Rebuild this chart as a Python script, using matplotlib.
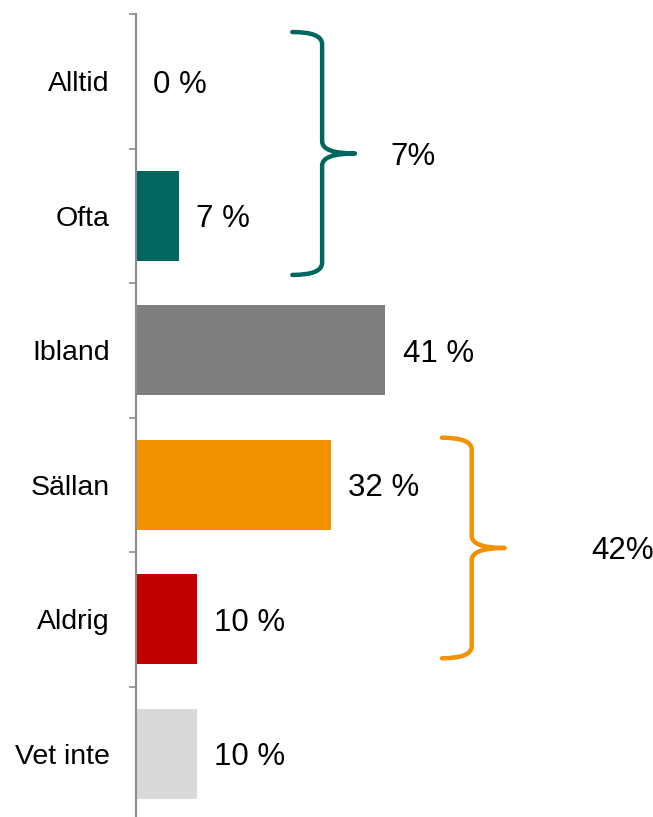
import matplotlib
matplotlib.use('Agg')
import matplotlib.pyplot as plt
from matplotlib.path import Path
from matplotlib.patches import PathPatch

categories = ['Alltid', 'Ofta', 'Ibland', 'Sällan', 'Aldrig', 'Vet inte']
values = [0, 7, 41, 32, 10, 10]
colors = ['#00665E', '#00665E', '#7F7F7F', '#F39200', '#C00000', '#D9D9D9']
group_labels = ['7%', '42%']

plt.rcParams['font.family'] = ['Liberation Sans', 'DejaVu Sans']

fig = plt.figure(figsize=(6.53, 8.17), dpi=100)
ax = fig.add_axes([136 / 653, -4 / 817, 517 / 653, 807 / 817])

y = list(range(len(categories)))
ax.barh(y, values, height=0.67, color=colors)
for yi, v in zip(y, values):
    ax.annotate(f'{v} %', (v, yi), xytext=(12.5, 0), textcoords='offset points',
                va='center_baseline', ha='left', fontsize=22.5)

ax.set_xlim(0, 85)
ax.set_ylim(5.5, -0.5)
ax.set_yticks(y)
ax.set_yticklabels(categories, fontsize=20.5)
ax.set_yticks([i - 0.5 for i in range(len(categories) + 1)], minor=True)
ax.tick_params(axis='y', which='major', length=0, pad=19)
ax.tick_params(axis='y', which='minor', length=5, width=1.2, color='#8C8C8C')
ax.set_xticks([])
for s in ['top', 'right', 'bottom']:
    ax.spines[s].set_visible(False)
ax.spines['left'].set_color('#8C8C8C')
ax.spines['left'].set_linewidth(1.5)


def brace(ax, x0, ytop, ybot, color, hook=4.9, tip=5.4, r=0.09):
    ymid = (ytop + ybot) / 2
    verts = [(x0 - hook, ytop), (x0, ytop), (x0, ytop + r),
             (x0, ymid - r), (x0, ymid), (x0 + tip, ymid),
             (x0, ymid), (x0, ymid + r),
             (x0, ybot - r), (x0, ybot), (x0 - hook, ybot)]
    codes = [Path.MOVETO, Path.CURVE3, Path.CURVE3,
             Path.LINETO, Path.CURVE3, Path.CURVE3,
             Path.CURVE3, Path.CURVE3,
             Path.LINETO, Path.CURVE3, Path.CURVE3]
    ax.add_patch(PathPatch(Path(verts, codes), fill=False, edgecolor=color,
                           lw=3.2, capstyle='round', joinstyle='round',
                           clip_on=False))
    return ymid


m1 = brace(ax, 30.6, -0.366, 1.44, '#00665E')
ax.text(41.8, m1, group_labels[0], va='center_baseline', ha='left', fontsize=22.5)
m2 = brace(ax, 55.2, 2.65, 4.29, '#F39200')
ax.text(74.8, m2, group_labels[1], va='center_baseline', ha='left', fontsize=22.5)

fig.savefig('out.png', dpi=100)
